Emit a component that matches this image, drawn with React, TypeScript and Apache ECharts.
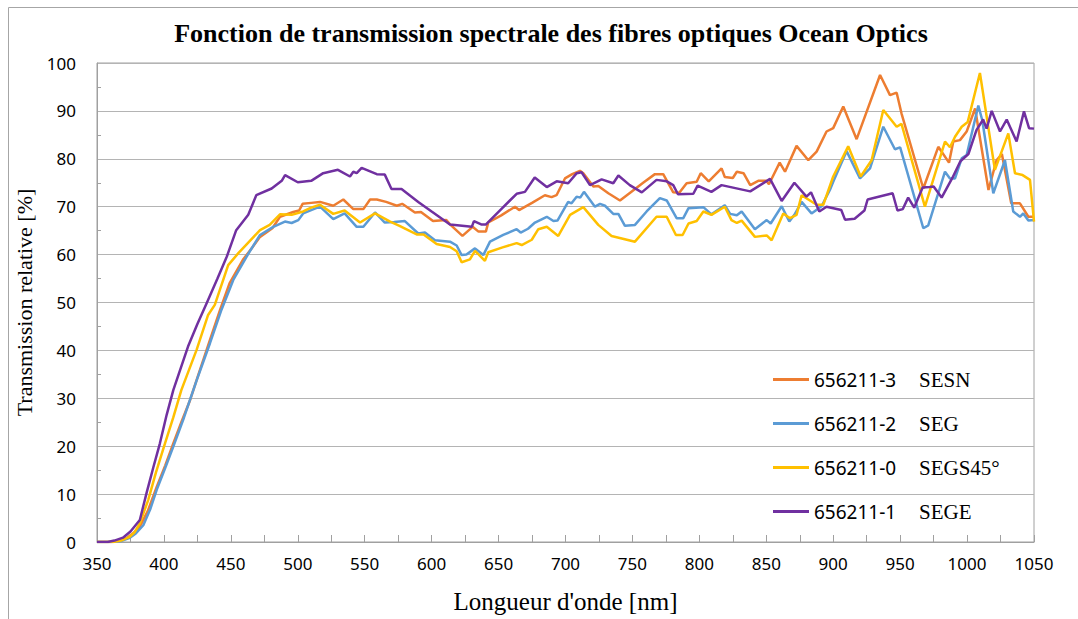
import React, { useEffect, useRef } from "react";
import * as echarts from "echarts";

const TITLE = "Fonction de transmission spectrale des fibres optiques Ocean Optics";
const X_NAME = "Longueur d'onde [nm]";
const Y_NAME = "Transmission relative [%]";

const seriesNames = ["656211-3", "656211-2", "656211-0", "656211-1"];
const seriesSuffix = ["SESN", "SEG", "SEGS45°", "SEGE"];
const seriesColors = ["#ED7D31", "#5B9BD5", "#FFC000", "#7030A0"];

const sesn: number[][] = [
  [350,0],[360,0],[366,0.2],[372,0.8],[377,1.8],[382,3.2],[388,6.5],[394.6,11.5],[401,16],[407,20.6],[413,25],[419.5,29.6],[427,36],[434.4,42.2],[442,48.5],[449,54],[459,58.9],[466,61.5],[471.8,63.7],[481,65.5],[486.7,67.9],[496.6,68.9],[501,69.2],[503.6,70.6],[510,70.8],[516.6,71],[526.5,70.2],[534,71.5],[541.5,69.5],[549,69.5],[554,71.5],[559,71.5],[566,71],[574,70.2],[578,70.6],[587.5,68.8],[592,68.9],[601,67],[611,67.2],[613.7,66.3],[623,63.9],[630.6,65.8],[635,64.8],[640.5,64.8],[642.3,66.7],[652,68.2],[662.3,70],[665.3,69.3],[675,70.8],[684.6,72.4],[689.6,72],[693.3,72.4],[699.6,75.9],[705,76.8],[710.8,77.5],[713.3,77],[720.8,74.2],[724.5,74.3],[732,72.8],[740.7,71.3],[750,73.3],[758,75],[766.8,76.8],[773,76.8],[780.5,73],[785,72.9],[790.5,74.9],[798,75.2],[801,77],[807,75.3],[816.6,78],[819,76.2],[825,76],[828,77.3],[833,77],[838,74.5],[844,75.4],[850,75.4],[852,74.7],[860,79.2],[864,77.3],[872.6,82.7],[881.4,79.7],[887.6,81.5],[895,85.7],[900,86.4],[907.5,90.9],[917.5,84.1],[935,97.5],[942.4,93.3],[947.4,93.8],[951,89.5],[967.3,73.8],[978.5,82.5],[986.5,79.2],[989.7,83.6],[994.7,83.9],[999.7,85.7],[1006,90.5],[1016,73.5],[1022,79.7],[1026,81],[1033,70.7],[1039.5,70.7],[1045.8,67.9],[1050,67.9]
];

const seg: number[][] = [
  [350,0],[362,0],[368,0.2],[374,0.8],[379,1.8],[384.6,3.5],[390,7],[394.6,10.9],[401,15.5],[407,19.9],[415,26],[424.5,33.8],[434.4,41.5],[443,48.5],[451.8,54.7],[461.8,59.6],[471.8,64.1],[481.7,65.8],[490.4,66.9],[495.4,66.6],[500.4,67.2],[504,68.6],[510,69.3],[516.6,70],[526.5,67.4],[535,68.6],[544,65.8],[549,65.8],[557.7,68.8],[565,66.7],[572,66.8],[580,67],[590,64.4],[595,64.6],[602.5,63],[613.7,62.7],[618.7,61.9],[622.4,59.9],[626,60],[632.4,61.3],[638.6,59.9],[643.6,62.7],[653.5,64.1],[663.5,65.3],[666.5,64.6],[672,65.4],[677.2,66.7],[686,67.9],[691,67],[694,67.1],[702,71],[704.5,70.7],[708.3,72.1],[711,71.9],[713.8,73.1],[722,70],[725.8,70.6],[729.5,70.2],[735.7,68.5],[739.5,68.5],[744.4,66],[751.9,66.2],[760.6,69],[770.5,71.8],[775.6,71.3],[783,67.6],[788,67.6],[791.9,69.7],[803,69.9],[809,68.4],[819,70.3],[823,68.5],[828,68.2],[831.6,69],[841.5,65.3],[850.3,67.2],[853.3,66.5],[861.5,70.1],[867.2,66.9],[871,68.3],[876.4,71],[883.8,68.6],[891.3,70.1],[897.5,73.5],[900,75.2],[910,81.6],[920,75.9],[927.5,78],[937.4,86.7],[946.1,82],[950,82.4],[967.3,65.5],[971,66.1],[983.5,77.3],[987.2,75.9],[991,75.9],[996,80.1],[999.7,80.8],[1008.4,91.1],[1011.4,88],[1019.6,72.8],[1028.3,79.7],[1034.5,69],[1039.5,67.9],[1042,68.6],[1045.8,67.1],[1050,67.2]
];

const segs45: number[][] = [
  [350,0],[362,0],[368,0.3],[374,1],[378,2],[382,3.9],[388.3,8.8],[394,14.5],[400.8,20.6],[407,26],[413,31.7],[424.4,40.1],[433,47.4],[438,49.5],[448,57.8],[455.6,60.3],[463,62.5],[471.8,65.1],[479,66.2],[486.7,68.4],[495.4,68.3],[504,69],[510,69.8],[516.6,70.4],[526.5,68.5],[535,69.2],[546.5,66.7],[557.7,68.6],[569,66.9],[576,66],[588.8,64.2],[594,64.2],[603.7,62.2],[613.7,61.6],[618.7,60.7],[622.4,58.4],[628.6,59],[632.4,60.8],[639.8,58.7],[642.3,60.5],[653,61.5],[663.5,62.4],[667.3,62],[674.8,63.1],[679.7,65.3],[686,65.8],[694.6,63.9],[703.4,68.3],[713.3,69.9],[724.5,66.2],[734.4,63.9],[751.9,62.7],[768,67.9],[775.6,67.9],[782.5,64.1],[787.5,64.1],[791.9,66.5],[798,67],[803,69],[809,68.3],[819,70],[824,67.2],[828,66.6],[831.6,67.1],[841.5,63.7],[850.3,64],[854,63],[862.7,68.6],[867.7,67.6],[872.6,68.3],[876.4,72.4],[887.6,70.4],[892.6,70.4],[900,76.3],[911.2,82.6],[920.5,76.3],[928.7,79.7],[937.4,90.2],[947.4,86.7],[951,87.3],[968.5,70],[983.5,83.6],[987.2,82.4],[991,84.6],[996,86.7],[1000.5,87.7],[1009.6,97.9],[1020.8,77.7],[1030.8,85.3],[1035.8,77],[1041.5,76.6],[1047,75.6],[1050,66.9]
];

const sege: number[][] = [
  [350,0],[358,0],[363,0.3],[369.4,0.9],[375,2.2],[382,4.6],[387,10.2],[392,15.5],[397,20.6],[402,26.5],[407,31.7],[418,40.8],[425,45.5],[432,49.9],[440,55],[447,59.6],[454,65.1],[463,68.3],[469,72.4],[480.5,73.8],[488,75.4],[490.5,76.6],[500,75.1],[510,75.4],[519,77],[530,77.7],[539,76.3],[541.5,77.3],[544,77],[547.7,78.1],[559,76.8],[565,76.7],[570,73.7],[577.5,73.7],[590,71],[600,69],[613.7,66.3],[630,65.8],[631.6,67],[637,66.3],[640.6,66.3],[652,69.5],[663.5,72.7],[669.7,73.1],[677,76.1],[686,74.1],[693.4,75.3],[702,74.9],[708.4,77],[712,77.2],[718.3,74.5],[727,75.7],[735.7,74.9],[739.5,76.5],[748,74.5],[757,73],[768,75.6],[775.6,75.3],[780.5,74.5],[784,72.6],[795.5,72.7],[798.7,74.4],[809,73.1],[816.6,74.5],[838,73.2],[852.8,75.8],[861.5,71.2],[871,75],[880,72.1],[883.4,73],[889.6,69],[895,70],[906,69.3],[908.8,67.3],[916,67.5],[923.3,69.2],[925.7,71.5],[944.4,72.8],[948,69.2],[952,69.5],[956,71.9],[960.5,69.8],[966.8,74],[972,74.1],[975,74.2],[981,71.9],[989,76],[995,79.5],[1001,81],[1007,86],[1012,88.2],[1014.6,86.3],[1018.4,90],[1024.6,85.7],[1029.6,88.2],[1037,83.6],[1042.5,89.9],[1046.3,86.4],[1050,86.3]
];

const seriesData = [sesn, seg, segs45, sege];

const SANS = "'Noto Sans', 'DejaVu Sans', sans-serif";
const SERIF = "'Liberation Serif', 'Times New Roman', serif";

export default function App() {
  const ref = useRef<HTMLDivElement>(null);
  useEffect(() => {
    document.body.style.margin = "0";
    if (!ref.current) return;
    const chart = echarts.init(ref.current, null, { renderer: "svg" });
    const suffixMap: Record<string, string> = {};
    seriesNames.forEach((n, i) => (suffixMap[n] = seriesSuffix[i]));
    chart.setOption({
      animation: false,
      backgroundColor: "#fff",
      title: {
        text: TITLE,
        left: 546,
        top: 15,
        textAlign: "center",
        textStyle: { fontFamily: SERIF, fontWeight: "bold", fontSize: 26, color: "#000" },
      },
      graphic: [
        {
          type: "rect",
          shape: { x: 8.5, y: 7.5, width: 1200, height: 800 },
          style: { fill: "none", stroke: "#A6A6A6", lineWidth: 1 },
          silent: true,
        },
      ],
      grid: { left: 97, top: 63, right: 44, bottom: 77, show: true, borderColor: "#A0A0A0", borderWidth: 1 },
      legend: {
        orient: "vertical",
        left: 768,
        top: 364,
        itemWidth: 36,
        itemHeight: 3,
        itemGap: 23,
        icon: "rect",
        data: seriesNames,
        formatter: (name: string) => `{a|${name}}{b|${suffixMap[name]}}`,
        textStyle: {
          rich: {
            a: { fontFamily: SANS, fontSize: 19, color: "#000", width: 105, lineHeight: 22 },
            b: { fontFamily: SERIF, fontSize: 21, color: "#000", lineHeight: 22 },
          },
        },
      },
      xAxis: {
        type: "value",
        min: 350,
        max: 1050,
        interval: 50,
        name: X_NAME,
        nameLocation: "middle",
        nameGap: 47,
        nameTextStyle: { fontFamily: SERIF, fontSize: 25, color: "#000" },
        axisLine: { show: true, lineStyle: { color: "#A0A0A0", width: 1 } },
        axisTick: { show: true, inside: true, length: 7, lineStyle: { color: "#A0A0A0" } },
        minorTick: { show: true, splitNumber: 2, length: 7, lineStyle: { color: "#A0A0A0" } },
        axisLabel: { fontFamily: SANS, fontSize: 17, color: "#000", margin: 13, formatter: (v: number) => String(v) },
        splitLine: { show: false },
      },
      yAxis: {
        type: "value",
        min: 0,
        max: 100,
        interval: 10,
        name: Y_NAME,
        nameLocation: "middle",
        nameGap: 56,
        nameTextStyle: { fontFamily: SERIF, fontSize: 22, color: "#000" },
        axisLine: { show: true, lineStyle: { color: "#A0A0A0", width: 1 } },
        axisTick: { show: false, inside: true },
        minorTick: { show: true, splitNumber: 2, length: 4, lineStyle: { color: "#A0A0A0" } },
        axisLabel: { fontFamily: SANS, fontSize: 17, color: "#000", margin: 21 },
        splitLine: { show: true, lineStyle: { color: "#B4B4B4", width: 1 } },
      },
      series: seriesNames.map((name, i) => ({
        name,
        type: "line",
        data: seriesData[i],
        showSymbol: false,
        symbol: "none",
        color: seriesColors[i],
        lineStyle: { color: seriesColors[i], width: 2.5 },
        z: 2 + i,
      })),
    });
    return () => chart.dispose();
  }, []);
  return <div ref={ref} style={{ width: 1078, height: 619 }} />;
}
